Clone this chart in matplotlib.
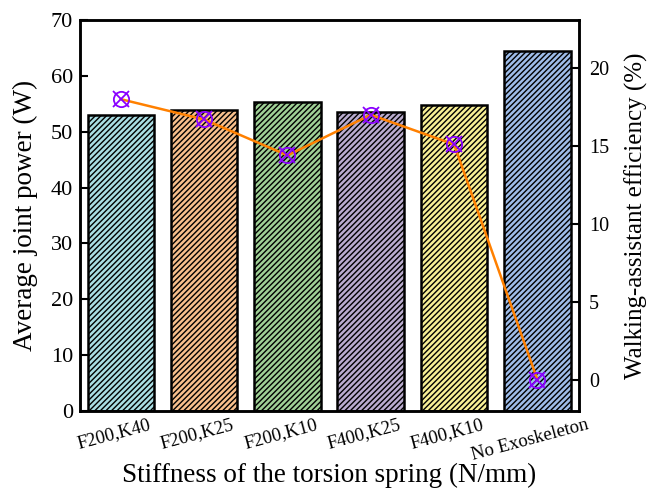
import numpy as np
import matplotlib
matplotlib.use("Agg")
from matplotlib import pyplot as plt
import matplotlib.transforms as mtransforms

plt.rcParams['font.family'] = ['Liberation Serif', 'DejaVu Serif']
plt.rcParams['hatch.linewidth'] = 1.0

categories = ["F200,K40", "F200,K25", "F200,K10", "F400,K25", "F400,K10", "No Exoskeleton"]
power = [52.9, 53.8, 55.4, 53.6, 54.7, 64.5]
efficiency = [18.0, 16.7, 14.4, 17.0, 15.1, 0.0]
colors = ["#a9dde3", "#f7bf8c", "#9fd095", "#b9abce", "#f7ef95", "#9ebce9"]

fig = plt.figure(figsize=(6.49, 4.88), dpi=100)
ax = fig.add_axes([0.1233, 0.158, 0.769, 0.801])
x = np.arange(len(categories))

# 柱状图: 平均关节功率
ax.bar(x, power, width=0.8, color=colors, edgecolor="black", linewidth=1.8, hatch="//////", zorder=2)
ax.set_xlim(-0.49, 5.5)
ax.set_ylim(0, 70)
ax.set_yticks(range(0, 71, 10))
ax.set_xticks(x)
ax.set_xticklabels(categories, rotation=15, fontsize=13.5)
ax.tick_params(axis='y', direction='in', labelsize=16, width=1.5, length=6, pad=5)
ax.tick_params(axis='x', direction='in', width=1.5, length=5, pad=4)
shift = mtransforms.ScaledTranslation(-7 / 100, 0, fig.dpi_scale_trans)
for lab in ax.get_xticklabels():
    lab.set_ha('center')
    lab.set_transform(lab.get_transform() + shift)
ax.set_ylabel("Average joint power (W)", fontsize=19.5, labelpad=9)
ax.set_xlabel("Stiffness of the torsion spring (N/mm)", fontsize=19.5)
ax.xaxis.set_label_coords(0.5, -0.132)
for s in ax.spines.values():
    s.set_linewidth(1.8)

# 折线: 助行效率
ax2 = ax.twinx()
ax2.plot(x, efficiency, color="#ff8000", linewidth=1.8, zorder=3)
ax2.plot(x, efficiency, linestyle="none", marker="o", markersize=11, markerfacecolor="none",
         markeredgecolor="#8a00ff", markeredgewidth=1.3, zorder=4)
ax2.plot(x, efficiency, linestyle="none", marker="x", markersize=11,
         markeredgecolor="#8a00ff", markeredgewidth=1.3, zorder=4)
ax2.set_ylim(-1.99, 23.08)
ax2.set_yticks(range(0, 21, 5))
ax2.tick_params(axis='y', direction='in', labelsize=14.5, width=1.5, length=6, pad=7)
ax2.set_ylabel("Walking-assistant efficiency (%)", fontsize=18, labelpad=11)
for s in ax2.spines.values():
    s.set_linewidth(1.8)

plt.savefig("out.png", dpi=100)
